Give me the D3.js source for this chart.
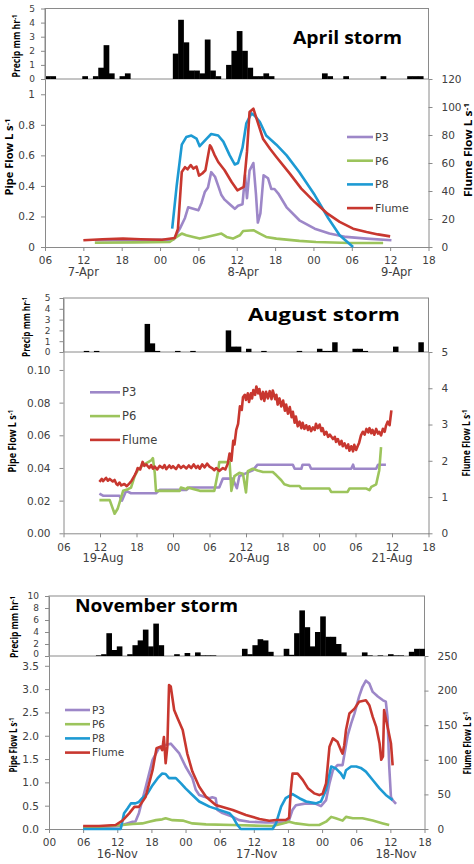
<!DOCTYPE html>
<html>
<head>
<meta charset="utf-8">
<script src="https://cdn.jsdelivr.net/npm/d3@7/dist/d3.min.js"></script>
<style>
  body { margin: 0; background: #fff; }
  text { font-family: "DejaVu Sans", sans-serif; fill: #404040; }
  .axis path, .axis line { stroke: #8a8a8a; }
  .axis text { font-size: 10.5px; fill: #404040; }
  .axis.rain text { font-size: 9px; }
</style>
</head>
<body>
<svg id="chart" width="474" height="864"></svg>
<script>
// ---------- April storm ----------
const aprilPrecip = [
  0.2, 0.2, 0, 0, 0, 0, 0, 0.2, 0, 0.2, 0.8, 2.4,
  0.4, 0, 0.2, 0.4, 0, 0, 0, 0, 0, 0, 0, 0,
  1.8, 4.2, 2.6, 0.6, 0.6, 0.4, 2.8, 0.6, 0.2, 0, 1.0, 2.0,
  3.4, 2.0, 0.8, 0.2, 0.2, 0.4, 0.2, 0, 0, 0, 0, 0,
  0, 0, 0, 0, 0.4, 0.2, 0, 0, 0.2, 0, 0, 0,
  0, 0, 0, 0.2, 0, 0, 0, 0, 0.2, 0.2, 0.2, 0
];
// [hours since 00:00 7-Apr, flow]
const aprilP3 = [[13.8,0.044],[20,0.044],[26.1,0.048],[27.1,0.12],[27.9,0.19],[28.4,0.26],[29.2,0.25],[30.0,0.24],[30.5,0.29],[31.0,0.36],[31.5,0.39],[32.0,0.49],[32.6,0.46],[33.1,0.40],[33.6,0.34],[34.1,0.31],[34.9,0.28],[35.7,0.25],[36.2,0.27],[36.9,0.28],[37.3,0.47],[37.6,0.32],[38.0,0.50],[38.6,0.55],[39.0,0.35],[39.3,0.16],[39.7,0.22],[40.2,0.47],[40.9,0.45],[41.4,0.38],[41.9,0.38],[42.5,0.35],[43.8,0.26],[45.8,0.175],[48.2,0.12],[50.5,0.088],[53.1,0.066],[56.3,0.055],[60.2,0.044]];
const aprilP6 = [[13.8,0.028],[20,0.03],[25.5,0.033],[26.6,0.066],[27.4,0.088],[28.1,0.077],[29.2,0.066],[30.2,0.055],[31.3,0.066],[32.8,0.08],[33.6,0.088],[34.4,0.066],[35.4,0.055],[36.5,0.077],[37.0,0.105],[38.6,0.11],[39.6,0.088],[40.6,0.066],[42.2,0.055],[45.8,0.04],[48.4,0.033],[53.7,0.026],[58.9,0.026]];
const aprilP8 = [[25.9,0.12],[26.6,0.4],[27.4,0.67],[28.1,0.72],[28.9,0.73],[29.7,0.71],[30.2,0.66],[31.3,0.71],[32.0,0.74],[33.1,0.73],[33.9,0.69],[34.9,0.6],[35.7,0.54],[36.2,0.55],[36.9,0.65],[37.5,0.81],[38.3,0.875],[38.8,0.86],[39.6,0.82],[40.6,0.73],[42.2,0.67],[43.8,0.6],[45.8,0.49],[48.2,0.34],[50.3,0.19],[52.1,0.077],[54.2,0.0]];
const aprilFlume = [[12.0,4.8],[15,5.5],[18.2,6],[21,5.5],[24.3,5.2],[26.3,6.4],[26.8,13],[27.4,53.6],[27.9,57],[28.3,55.5],[28.8,58.5],[29.2,56],[29.7,57.5],[30.1,51],[30.6,52.5],[31.1,54.8],[31.8,72.6],[32.0,71.4],[32.5,66],[33.1,60.7],[34.1,54.8],[35.2,46.4],[36.1,40.5],[37.1,42.9],[37.6,67.9],[38.0,96.4],[38.6,98.8],[39.1,91.7],[40.1,77.4],[41.2,70.2],[42.2,64.3],[44.3,52.4],[46.1,41.7],[48.2,32.1],[50.2,23.8],[52.1,17.9],[54.2,13.1],[56.3,10.7],[58.1,9],[60.0,7.6]];
const aprilDates = [["7-Apr", 12], ["8-Apr", 37], ["9-Apr", 61]];

// ---------- August storm ----------
const augustPrecip = [
  0, 0, 0, 0, 0.1, 0, 0.1, 0, 0, 0, 0, 0,
  0, 0, 0, 0, 2.6, 0.8, 0.1, 0, 0, 0, 0.1, 0,
  0, 0.1, 0, 0, 0, 0, 0, 0, 2.0, 0.5, 0.5, 0,
  0.3, 0, 0, 0.1, 0, 0, 0, 0, 0, 0, 0.1, 0,
  0, 0, 0.3, 0.1, 0.1, 0.9, 0, 0, 0, 0.3, 0.3, 0.1,
  0, 0, 0, 0, 0, 0.5, 0, 0, 0, 0, 0.9, 0
];
const augustP3 = [[11.9,0.0243],[12.5,0.023],[15.2,0.023],[15.6,0.02],[16.3,0.026],[17.1,0.0245],[21.2,0.0245],[21.8,0.0266],[26.2,0.0266],[26.7,0.028],[31.6,0.028],[32.2,0.0335],[33.8,0.0335],[34.5,0.0276],[34.9,0.035],[37.1,0.0385],[37.9,0.042],[43.7,0.042],[44.0,0.0395],[45.1,0.0395],[45.3,0.042],[46.4,0.042],[46.7,0.0395],[53.3,0.0395],[53.6,0.042],[53.8,0.0395],[57.4,0.0395],[57.7,0.042],[59.0,0.042]];
const augustP6 = [[11.9,0.0203],[13.6,0.0203],[14.4,0.012],[14.9,0.015],[15.8,0.026],[16.6,0.027],[17.1,0.028],[17.7,0.035],[18.2,0.0385],[19.0,0.0416],[20.4,0.0446],[20.7,0.046],[21.0,0.037],[21.2,0.026],[25.1,0.026],[25.3,0.028],[26.2,0.027],[26.4,0.028],[28.4,0.026],[30.8,0.026],[31.4,0.0375],[31.6,0.0436],[33.3,0.0436],[33.6,0.026],[34.1,0.035],[34.9,0.037],[35.5,0.0365],[36.0,0.025],[36.3,0.038],[37.1,0.0395],[37.9,0.0385],[38.8,0.0375],[40.4,0.0375],[41.0,0.0355],[41.8,0.0325],[42.3,0.030],[43.2,0.029],[44.8,0.029],[45.1,0.0274],[49.7,0.0274],[50.0,0.0253],[52.7,0.0253],[53.0,0.0274],[55.8,0.0274],[56.3,0.0264],[56.6,0.0284],[57.4,0.030],[57.9,0.0385],[58.2,0.0527]];
const augustFlume = [[11.9,1.42],[12.3,1.5],[12.5,1.44],[13.0,1.53],[13.3,1.45],[13.6,1.5],[14.1,1.43],[14.4,1.47],[14.7,1.36],[14.9,1.33],[15.2,1.4],[15.5,1.32],[16.0,1.36],[16.4,1.3],[16.8,1.37],[17.2,1.45],[17.7,1.6],[18.0,1.7],[18.2,1.8],[18.6,1.76],[19.0,1.97],[19.3,1.86],[19.6,1.9],[20.1,1.8],[20.4,1.88],[20.7,1.78],[21.0,1.84],[21.4,1.76],[21.8,1.86],[22.3,1.8],[22.6,1.88],[22.9,1.77],[23.4,1.87],[23.7,1.8],[24.0,1.85],[24.5,1.77],[24.9,1.88],[25.3,1.8],[25.7,1.86],[26.2,1.79],[26.6,1.87],[27.0,1.8],[27.4,1.9],[27.8,1.8],[28.1,1.86],[28.4,1.78],[28.8,1.9],[29.2,1.82],[29.6,1.92],[30.0,1.84],[30.4,1.8],[30.8,1.74],[31.1,1.8],[31.6,1.72],[32.2,1.8],[32.6,1.76],[33.0,1.92],[33.3,2.2],[33.6,2.0],[33.9,2.55],[34.1,2.45],[34.4,2.85],[34.7,3.02],[35.0,3.5],[35.3,3.4],[35.5,3.75],[35.8,3.82],[36.0,3.68],[36.3,3.86],[36.5,3.62],[36.8,3.86],[37.0,3.72],[37.2,3.95],[37.5,3.82],[37.7,4.05],[38.0,3.86],[38.2,3.98],[38.5,3.7],[38.8,3.9],[39.0,3.65],[39.3,3.9],[39.6,3.72],[39.9,3.92],[40.2,3.7],[40.4,3.94],[40.8,3.7],[41.0,3.82],[41.2,3.55],[41.5,3.72],[41.8,3.5],[42.1,3.66],[42.4,3.38],[42.6,3.55],[42.9,3.3],[43.2,3.48],[43.5,3.2],[43.7,3.35],[44.0,3.05],[44.2,3.22],[44.5,2.95],[44.8,3.08],[45.1,2.9],[45.3,3.05],[45.6,2.88],[45.9,2.98],[46.2,2.85],[46.4,2.95],[46.7,2.82],[47.0,2.92],[47.3,2.85],[47.5,3.02],[47.8,2.9],[48.1,3.0],[48.4,2.82],[48.6,2.9],[48.9,2.72],[49.2,2.8],[49.5,2.66],[49.8,2.72],[50.3,2.6],[50.6,2.66],[50.8,2.52],[51.1,2.6],[51.4,2.45],[51.7,2.55],[51.9,2.4],[52.2,2.48],[52.5,2.35],[52.8,2.45],[53.0,2.28],[53.3,2.4],[53.6,2.26],[53.8,2.44],[54.1,2.3],[54.4,2.42],[54.6,2.5],[54.9,2.7],[55.2,2.8],[55.5,2.72],[55.8,2.88],[56.1,2.78],[56.3,2.9],[56.6,2.76],[56.8,2.85],[57.1,2.72],[57.4,2.88],[57.7,2.75],[57.9,2.8],[58.2,2.7],[58.5,2.88],[58.8,2.8],[59.0,2.96],[59.3,3.08],[59.6,2.98],[59.9,3.39]];
const augustDates = [["19-Aug", 12.5], ["20-Aug", 36.5], ["21-Aug", 60]];

// ---------- November storm ----------
const novemberPrecip = [
  0, 0, 0, 0, 0, 0, 0, 0, 0, 0.1, 0.3, 3.8,
  1.0, 1.6, 0, 0.3, 1.8, 2.6, 4.4, 1.6, 5.4, 1.8, 0, 0,
  0.3, 0, 0.5, 0, 0.6, 0.1, 0.1, 0.1, 0, 0, 0, 0,
  0, 1.2, 0.3, 1.8, 2.8, 2.6, 0.7, 0, 0, 1.2, 0.2, 3.8,
  7.6, 4.8, 1.6, 4.0, 6.6, 3.2, 3.2, 2.0, 0.6, 0, 0, 0,
  0.6, 0.1, 0, 0.1, 0, 0.3, 0.1, 0.1, 0, 0.7, 1.2, 1.2
];
const novemberP3 = [[6,0.03],[12.3,0.06],[12.9,0.086],[14.7,0.157],[15.2,0.16],[15.8,0.34],[17.0,0.9],[18.2,1.48],[19.4,1.75],[20.5,1.8],[21.4,1.83],[22.9,1.62],[24.0,1.34],[25.2,1.09],[25.8,0.84],[26.4,0.73],[27.3,0.69],[28.2,0.66],[28.7,0.68],[29.3,0.66],[29.6,0.41],[30.5,0.34],[32.3,0.26],[33.4,0.19],[35.2,0.157],[38.1,0.14],[41.6,0.14],[42.2,0.19],[42.8,0.41],[43.4,0.51],[45.2,0.55],[46.9,0.54],[47.8,0.49],[48.7,0.62],[49.3,0.98],[49.9,1.26],[50.7,1.37],[51.6,1.37],[52.2,1.8],[52.5,2.01],[53.1,2.26],[53.7,2.48],[54.5,2.84],[55.1,3.05],[55.7,3.18],[56.3,3.12],[56.9,2.94],[57.8,2.84],[58.7,2.76],[59.2,2.73],[59.5,2.4],[59.8,1.34],[60.1,0.69],[60.4,0.62],[61.0,0.54]];
const novemberP6 = [[6,0.02],[12.9,0.086],[14.7,0.107],[16.4,0.12],[17.6,0.157],[18.8,0.19],[19.9,0.207],[20.5,0.23],[21.7,0.19],[23.5,0.18],[25.2,0.12],[27.6,0.1],[32.3,0.086],[37.0,0.07],[39.3,0.065],[41.1,0.12],[42.2,0.157],[43.4,0.12],[45.7,0.086],[47.5,0.086],[48.7,0.157],[49.6,0.26],[50.4,0.23],[51.6,0.18],[52.2,0.26],[53.4,0.23],[55.1,0.23],[56.9,0.18],[58.7,0.12],[59.8,0.086]];
const novemberP8 = [[6,0],[12.6,0],[13.2,0.34],[13.8,0.44],[14.4,0.55],[15.2,0.55],[15.8,0.58],[16.4,0.66],[17.3,0.76],[18.2,0.94],[19.1,1.09],[19.9,1.19],[20.5,1.18],[21.1,1.09],[22.3,1.09],[23.2,0.98],[24.0,0.87],[25.2,0.73],[26.4,0.59],[28.2,0.48],[29.9,0.41],[31.7,0.34],[32.3,0.26],[33.1,0.09],[33.7,0],[39.3,0],[39.9,0.12],[40.8,0.48],[41.6,0.66],[42.8,0.75],[44.0,0.66],[45.2,0.59],[46.9,0.55],[47.8,0.59],[48.7,0.84],[49.6,1.34],[50.4,1.3],[51.3,1.19],[51.8,1.09],[52.2,1.26],[53.1,1.34],[54.0,1.34],[54.8,1.31],[55.7,1.23],[56.9,1.05],[58.1,0.87],[59.2,0.73],[60.4,0.62]];
const novemberFlume = [[6,4.3],[8.8,4.3],[11.7,5.8],[12.9,12],[14.1,22.6],[15.0,32],[15.8,32],[17.0,46.7],[18.2,85],[18.9,116.6],[19.6,119],[19.9,114],[20.2,133],[20.5,95],[20.8,119],[21.1,208],[21.4,206],[22.0,172],[22.6,160],[23.5,143],[24.3,109],[25.2,83],[26.4,61],[27.6,46.7],[29.3,34.7],[32.3,27.5],[34.6,20.2],[37.0,14.5],[38.7,12],[39.9,13],[41.6,13],[42.2,16],[42.5,56],[42.8,80],[43.7,80],[44.6,71],[45.5,59],[46.6,51.5],[47.5,49],[48.1,51],[48.7,66],[49.3,119],[49.9,131],[50.7,126],[51.3,114],[51.6,109],[51.9,121],[52.2,143],[52.8,167],[53.7,174],[54.5,184],[55.7,186],[56.3,179],[56.9,162],[57.5,148],[58.1,124],[58.4,100],[58.7,105],[58.9,172],[59.5,148],[60.1,124],[60.4,92]];
const novemberDates = [["16-Nov", 12], ["17-Nov", 36.5], ["18-Nov", 61]];

const seriesColors = { "P3": "#9d87c8", "P6": "#9cc45c", "P8": "#1d9ad3", "Flume": "#c8372f" };

const svg = d3.select("#chart");

function rotatedTitle(g, cx, cy, main, sup, len) {
    let t = g.append("text")
        .attr("transform", "translate(" + cx + "," + cy + ") rotate(-90)")
        .attr("text-anchor", "middle")
        .attr("dy", "0.35em")
        .attr("textLength", len)
        .attr("lengthAdjust", "spacingAndGlyphs")
        .style("font-family", "'Liberation Sans Narrow', 'Open Sans', sans-serif")
        .style("font-weight", "bold")
        .style("font-size", "10px")
        .style("fill", "#000");
    t.append("tspan").text(main);
    t.append("tspan").attr("dy", "-0.4em").style("font-size", "7px").text(sup);
}

function drawPanel(p) {
    let g = svg.append("g");

    let x = d3.scaleLinear().domain(p.hours).range([p.left, p.right]);
    let band = d3.scaleBand().domain(d3.range(p.precip.length)).range([p.left, p.right]).padding(0);
    let yRain = d3.scaleLinear().domain([0, p.rainMax]).range([p.flowTop, p.rainTop]);
    let yPipe = d3.scaleLinear().domain([0, p.pipeMax]).range([p.flowBottom, p.flowTop]);
    let yFlume = d3.scaleLinear().domain([0, p.flumeMax]).range([p.flowBottom, p.flowTop]);

    // precipitation box and bars
    g.append("rect")
        .attr("x", p.left).attr("y", p.rainTop)
        .attr("width", p.right - p.left).attr("height", p.flowTop - p.rainTop)
        .attr("fill", "none").attr("stroke", "#8a8a8a");

    let bars = p.precip.map((v, i) => ({ i: i, v: v })).filter(d => d.v > 0);
    g.selectAll(".bar")
        .data(bars)
        .enter().append("rect")
        .attr("class", "bar")
        .attr("x", d => band(d.i))
        .attr("width", band.bandwidth() + 0.4)
        .attr("y", d => yRain(d.v))
        .attr("height", d => yRain(0) - yRain(d.v))
        .attr("fill", "#000");

    let rainAxis = g.append("g")
        .attr("class", "axis rain")
        .attr("transform", "translate(" + p.left + ",0)")
        .call(d3.axisLeft(yRain).tickValues(d3.range(0, p.rainMax + 0.001, p.rainStep))
            .tickFormat(d3.format("d"))
            .tickSize(4).tickSizeOuter(0).tickPadding(p.labelPad));
    if (p.liftZero) {
        // keep the precip zero clear of the top flow label
        rainAxis.selectAll(".tick text").filter(d => d === 0).attr("dy", "0.1em");
    }

    // flow axes
    g.append("g")
        .attr("class", "axis")
        .attr("transform", "translate(" + p.left + ",0)")
        .call(d3.axisLeft(yPipe).tickValues(d3.range(0, p.pipeTop + 0.0001, p.pipeStep))
            .tickFormat(d3.format(p.pipeFormat))
            .tickSize(4).tickSizeOuter(0).tickPadding(p.labelPad));

    g.append("g")
        .attr("class", "axis")
        .attr("transform", "translate(" + p.right + ",0)")
        .call(d3.axisRight(yFlume).tickValues(d3.range(0, p.flumeMax + 0.001, p.flumeStep))
            .tickFormat(d3.format("d"))
            .tickSize(4).tickSizeOuter(0).tickPadding(9));

    let hourTicks = d3.range(p.hours[0], p.hours[1] + 0.1, 6);
    g.append("g")
        .attr("class", "axis")
        .attr("transform", "translate(0," + p.flowBottom + ")")
        .call(d3.axisBottom(x).tickValues(hourTicks)
            .tickFormat(d => String(d % 24).padStart(2, "0"))
            .tickSize(4).tickSizeOuter(0).tickPadding(6));

    g.selectAll(".date")
        .data(p.dates)
        .enter().append("text")
        .attr("class", "date")
        .attr("x", d => x(d[1]))
        .attr("y", p.flowBottom + 29)
        .attr("text-anchor", "middle")
        .style("font-size", "11.5px")
        .text(d => d[0]);

    // series
    let line = d3.line().x(d => x(d[0]));
    p.series.forEach(s => {
        let yScale = s.name === "Flume" ? yFlume : yPipe;
        g.append("path")
            .datum(s.values)
            .attr("fill", "none")
            .attr("stroke", seriesColors[s.name])
            .attr("stroke-width", 2.6)
            .attr("stroke-linejoin", "round")
            .attr("d", line.y(d => yScale(d[1])));
    });

    // legend
    let leg = g.selectAll(".legend")
        .data(p.series)
        .enter().append("g")
        .attr("class", "legend")
        .attr("transform", (d, i) => "translate(" + p.legend.x + "," + (p.legend.y + i * p.legend.step) + ")");
    leg.append("line")
        .attr("x1", 0).attr("x2", p.legend.len)
        .attr("stroke", d => seriesColors[d.name])
        .attr("stroke-width", 2.6);
    leg.append("text")
        .attr("x", p.legend.len + 2)
        .attr("dy", "0.36em")
        .style("font-size", p.legend.font + "px")
        .text(d => d.name);

    // titles
    g.append("text")
        .attr("x", p.title.x).attr("y", p.title.y)
        .attr("textLength", p.title.len)
        .attr("lengthAdjust", "spacingAndGlyphs")
        .style("font-family", "'Open Sans', sans-serif")
        .style("font-weight", "bold")
        .style("font-size", p.title.size + "px")
        .style("fill", "#000")
        .text(p.title.text);

    rotatedTitle(g, p.rainLabel[0], p.rainLabel[1], "Precip mm hr", "-1", p.rainLabel[2]);
    rotatedTitle(g, p.pipeLabel[0], p.pipeLabel[1], "Pipe Flow  L s", "-1", p.pipeLabel[2]);
    rotatedTitle(g, p.flumeLabel[0], p.flumeLabel[1], "Flume Flow  L s", "-1", p.flumeLabel[2]);
}

drawPanel({
    hours: [6, 66], dates: aprilDates, precip: aprilPrecip,
    left: 45, right: 428.5, rainTop: 8.5, flowTop: 79, flowBottom: 247,
    rainMax: 5, rainStep: 1, liftZero: false,
    pipeMax: 1.1, pipeTop: 1, pipeStep: 0.2, pipeFormat: ".1~f",
    flumeMax: 120, flumeStep: 20, labelPad: 6,
    series: [{ name: "P3", values: aprilP3 }, { name: "P6", values: aprilP6 },
             { name: "P8", values: aprilP8 }, { name: "Flume", values: aprilFlume }],
    legend: { x: 347, y: 137, step: 23.7, len: 26, font: 11 },
    title: { text: "April storm", x: 293, y: 44, len: 109, size: 18 },
    rainLabel: [16, 46, 63], pipeLabel: [9, 157, 77], flumeLabel: [468, 150, 94]
});

drawPanel({
    hours: [6, 66], dates: augustDates, precip: augustPrecip,
    left: 63.5, right: 428.5, rainTop: 298, flowTop: 352, flowBottom: 533.3,
    rainMax: 5, rainStep: 1, liftZero: false,
    pipeMax: 0.111, pipeTop: 0.1, pipeStep: 0.02, pipeFormat: ".2f",
    flumeMax: 5, flumeStep: 1, labelPad: 9,
    series: [{ name: "P3", values: augustP3 }, { name: "P6", values: augustP6 },
             { name: "Flume", values: augustFlume }],
    legend: { x: 90, y: 392.3, step: 23.8, len: 30, font: 11.5 },
    title: { text: "August storm", x: 248, y: 321, len: 152, size: 17 },
    rainLabel: [26, 327, 60], pipeLabel: [12, 441, 63], flumeLabel: [466, 443, 67]
});

drawPanel({
    hours: [0, 66], dates: novemberDates, precip: novemberPrecip,
    left: 49, right: 424.5, rainTop: 596, flowTop: 656, flowBottom: 829,
    rainMax: 10, rainStep: 2, liftZero: true,
    pipeMax: 3.71, pipeTop: 3.5, pipeStep: 0.5, pipeFormat: ".1f",
    flumeMax: 250, flumeStep: 50, labelPad: 6,
    series: [{ name: "P3", values: novemberP3 }, { name: "P6", values: novemberP6 },
             { name: "P8", values: novemberP8 }, { name: "Flume", values: novemberFlume }],
    legend: { x: 65, y: 710, step: 14.2, len: 25, font: 10.5 },
    title: { text: "November storm", x: 75, y: 611.5, len: 163, size: 17 },
    rainLabel: [14, 627, 62], pipeLabel: [13, 745, 55], flumeLabel: [467, 743, 63]
});
</script>
</body>
</html>
